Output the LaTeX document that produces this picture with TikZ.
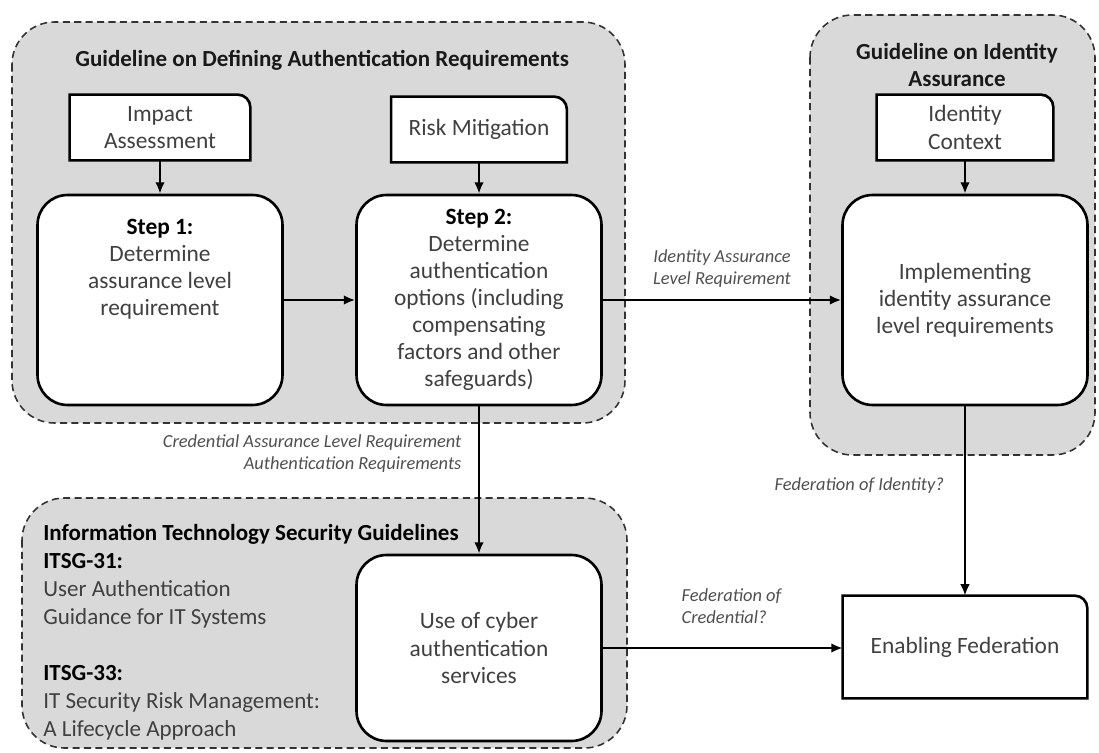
\documentclass[tikz,border=0pt]{standalone}
\usepackage{fontspec}
\setmainfont{Carlito}
\usetikzlibrary{arrows.meta,backgrounds}
\definecolor{regiongray}{HTML}{D9D9D9}
\definecolor{textgray}{HTML}{404040}
\definecolor{labelgray}{HTML}{505050}

\begin{document}
\begin{tikzpicture}[x=0.02cm, y=-0.02cm,
    every node/.style={font=\fontsize{13.3}{15.4}\selectfont, text=textgray},
    stepbox/.style={draw=black, line width=1.5pt, fill=white, rounded corners=0.6cm,
        minimum width=4.9cm, minimum height=4.2cm, align=center},
    inputbox/.style={minimum height=1.3cm, align=center},
    boxline/.style={draw=black, line width=1.5pt, fill=white},
    region/.style={draw=black!80, dash pattern=on 4pt off 2.5pt, line width=0.9pt,
        fill=regiongray, rounded corners=0.85cm},
    grouptitle/.style={font=\bfseries\fontsize{13.1}{15.4}\selectfont, text=black!90, inner sep=0pt},
    arrow/.style={-{Latex[length=6.5pt,width=5.5pt]}, line width=1.4pt},
    flowlabel/.style={font=\itshape\fontsize{10.5}{12.6}\selectfont, text=labelgray}]
    \useasboundingbox (0,0) rectangle (1099,753);

    % Steps
    \node[stepbox] (step1) at (160,300) {\textcolor{black}{\textbf{Step 1:}}\\Determine\\assurance level\\requirement\\[1.4\baselineskip]~};
    \node[stepbox] (step2) at (479,300) {\textcolor{black}{\textbf{Step 2:}}\\Determine\\authentication\\options (including\\compensating\\factors and other\\safeguards)};
    \node[stepbox] (impl) at (965,300) {Implementing\\identity assurance\\level requirements};
    \node[stepbox, minimum height=3.72cm] (cyber) at (479,648) {Use of cyber\\authentication\\services};

    % Inputs
    \node[inputbox, minimum width=3.6cm] (impact) at (160,127.5) {Impact\\Assessment};
    \node[inputbox, minimum width=3.5cm] (risk) at (479,129.5) {Risk Mitigation};
    \node[inputbox, minimum width=3.52cm] (ident) at (965,127.5) {Identity\\Context};
    \node[inputbox, minimum width=4.88cm, minimum height=2.04cm] (enable) at (965,647) {Enabling Federation};

    % Group titles
    \node[grouptitle, anchor=west] (titleA) at (75,60) {Guideline on Defining Authentication Requirements};
    \node[grouptitle, align=center] (titleB) at (957,65) {Guideline on Identity\\Assurance};
    \node[anchor=north west, align=left, inner sep=0pt, font=\fontsize{13.1}{15.9}\selectfont] (titleC) at (43,524)
        {\textcolor{black}{\textbf{Information Technology Security Guidelines}}\\
         \textcolor{black}{\textbf{ITSG-31:}}\\User Authentication\\Guidance for IT Systems\\[\baselineskip]
         \textcolor{black}{\textbf{ITSG-33:}}\\IT Security Risk Management:\\A Lifecycle Approach};

    % Arrows
    \draw[arrow] (impact) -- (step1);
    \draw[arrow] (risk) -- (step2);
    \draw[arrow] (ident) -- (impl);
    \draw[arrow] (step1) -- (step2);
    \draw[arrow] (step2) -- node[flowlabel, above=3pt, align=center] (lblIAL) {Identity Assurance\\Level Requirement} (impl);
    \draw[arrow] (step2) -- node[flowlabel, pos=0.32, left=6pt, align=right] (lblCAL) {Credential Assurance Level Requirement\\Authentication Requirements} (cyber);
    \draw[arrow] (impl) -- node[flowlabel, pos=0.42, left=8pt] (lblFI) {Federation of Identity?} (enable);
    \draw[arrow] (cyber.east) -- node[flowlabel, above=10pt, align=left, xshift=5pt] (lblFC) {Federation of\\Credential?} (cyber.east -| enable.west);

    % Groups and input box outlines
    \begin{scope}[on background layer]
        \draw[region] (12,22) rectangle (625,423);
        \draw[region] (810,15) rectangle (1095,455);
        \draw[region] (22,498) rectangle (627,748);
        \foreach \b in {impact,risk,ident,enable}
            \filldraw[boxline] (\b.south west) |- ([xshift=-0.25cm]\b.north east)
                arc[start angle=90, end angle=0, radius=0.25cm] -- (\b.south east) -- cycle;
    \end{scope}
\end{tikzpicture}
\end{document}
